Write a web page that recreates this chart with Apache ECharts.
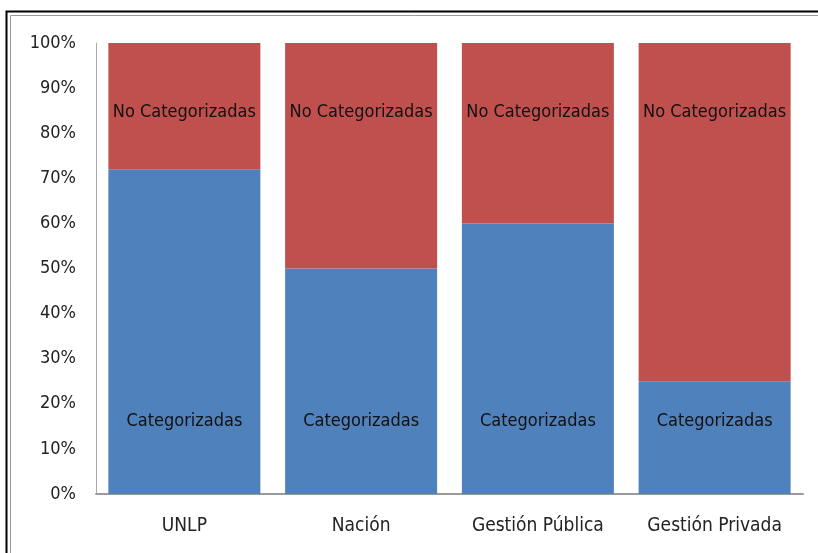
<!DOCTYPE html>
<html>
<head>
<meta charset="utf-8">
<script src="https://cdn.jsdelivr.net/npm/echarts@6/dist/echarts.min.js"></script>
<style>
html,body{margin:0;padding:0;background:#fff;}
#chart{width:818px;height:553px;}
</style>
</head>
<body>
<div id="chart"></div>
<script>
const categories = ['UNLP', 'Nación', 'Gestión Pública', 'Gestión Privada'];
const categorizadas = [72, 50, 60, 25];
const noCategorizadas = [28, 50, 40, 75];
const yTicks = [0, 10, 20, 30, 40, 50, 60, 70, 80, 90, 100];

const FONT = '"Liberation Sans Narrow", "DejaVu Sans Condensed", sans-serif';
const chart = echarts.init(document.getElementById('chart'));
chart.setOption({
  animation: false,
  backgroundColor: '#fff',
  graphic: [
    { type: 'rect', shape: { x: 6.5, y: 11.5, width: 900, height: 700 }, style: { fill: 'none', stroke: '#000', lineWidth: 2 }, silent: true },
    { type: 'rect', shape: { x: 10.5, y: 15.5, width: 900, height: 700 }, style: { fill: 'none', stroke: '#999', lineWidth: 1 }, silent: true }
  ],
  grid: { left: 96, right: 15, top: 43, bottom: 59, containLabel: false },
  xAxis: {
    type: 'category',
    data: categories,
    axisLine: { lineStyle: { color: '#9a9a9a', width: 2 } },
    axisTick: { show: false },
    axisLabel: { interval: 0, color: '#222', fontFamily: FONT, fontSize: 19, margin: 23 }
  },
  yAxis: {
    type: 'value',
    min: 0, max: 100, interval: 10,
    axisLine: { show: true, lineStyle: { color: '#aaa' } },
    axisTick: { show: false },
    splitLine: { show: false },
    axisLabel: {
      color: '#222', fontFamily: FONT, fontSize: 18, margin: 20,
      formatter: v => yTicks.includes(v) ? v + '%' : ''
    }
  },
  series: [
    {
      name: 'Categorizadas', type: 'bar', stack: 'total',
      data: categorizadas, barWidth: '86%',
      itemStyle: { color: '#4F81BD' },
      label: { show: true, position: 'insideBottom', distance: 64, formatter: 'Categorizadas', color: '#111', fontFamily: FONT, fontSize: 18 }
    },
    {
      name: 'No Categorizadas', type: 'bar', stack: 'total',
      data: noCategorizadas, barWidth: '86%',
      itemStyle: { color: '#C0504D' },
      label: { show: true, position: 'insideTop', distance: 60, formatter: 'No Categorizadas', color: '#111', fontFamily: FONT, fontSize: 18 }
    }
  ]
});
</script>
</body>
</html>
